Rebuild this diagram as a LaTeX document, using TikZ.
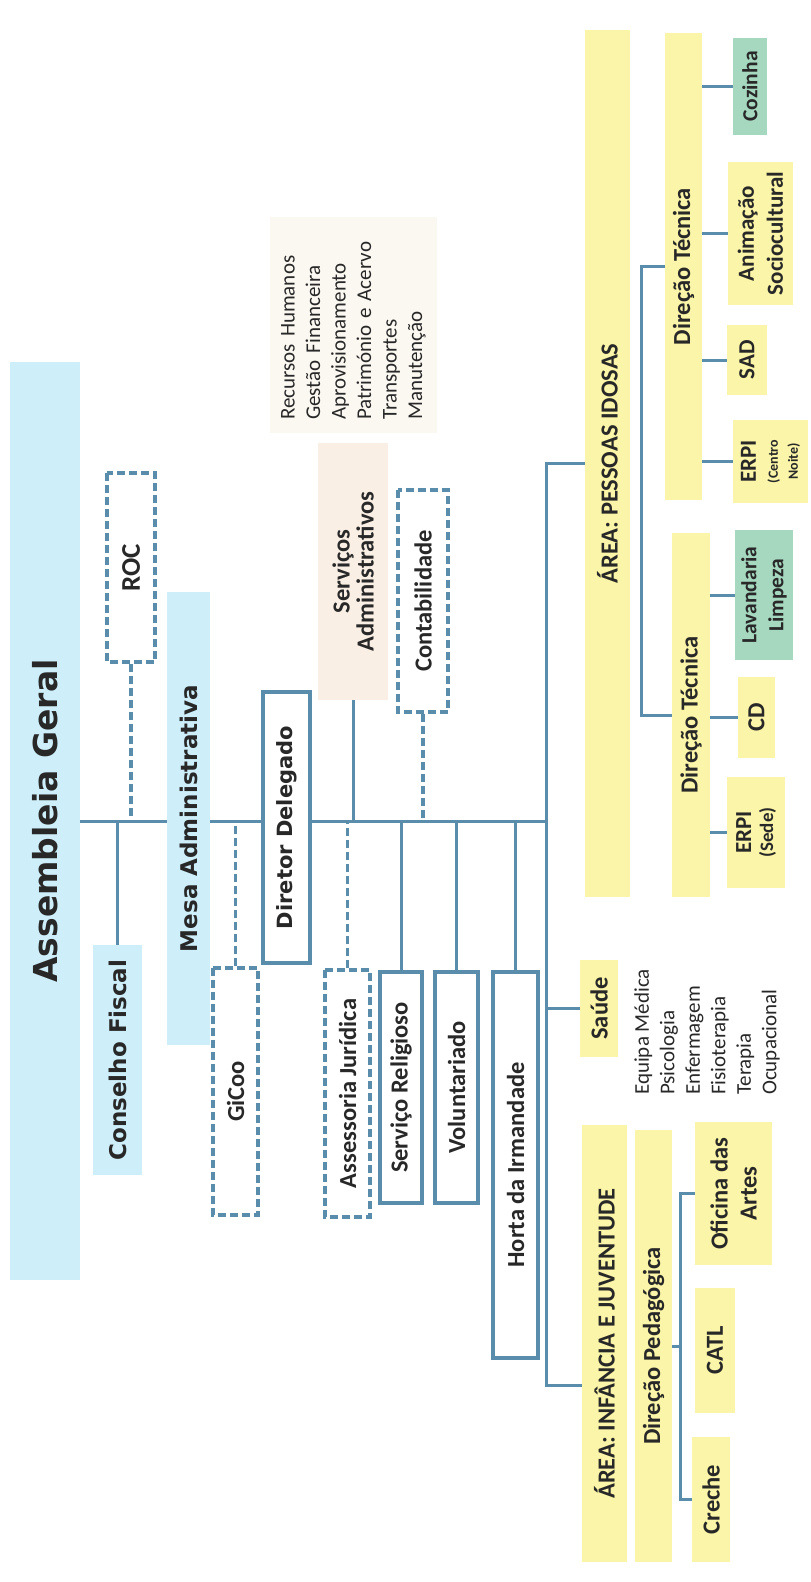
\documentclass[tikz,border=0pt]{standalone}
\usepackage{fontspec}
\setmainfont{Carlito}
\newfontfamily\verdfont{DejaVu Sans}
\usepackage{tikz}
\definecolor{linec}{RGB}{90,140,172}
\definecolor{agblue}{RGB}{206,239,250}
\definecolor{ylw}{RGB}{250,245,168}
\definecolor{grn}{RGB}{166,216,192}
\definecolor{beige}{RGB}{249,239,229}
\definecolor{beigelt}{RGB}{251,247,241}
\definecolor{txtc}{RGB}{40,40,40}
\pgfdeclarelayer{bglayer}
\pgfdeclarelayer{edgelayer}
\pgfdeclarelayer{nodelayer}
\pgfsetlayers{bglayer,edgelayer,nodelayer,main}
\newcommand{\fnttitle}{\verdfont\bfseries\fontsize{33}{36}\selectfont}
\newcommand{\fnthead}{\verdfont\bfseries\fontsize{23}{26}\selectfont}
\newcommand{\fntdir}{\verdfont\bfseries\fontsize{21}{24}\selectfont}
\newcommand{\fntbox}{\bfseries\fontsize{24.5}{24}\selectfont}
\newcommand{\fntmid}{\bfseries\fontsize{21.5}{24}\selectfont}
\newcommand{\fntsmall}{\bfseries\fontsize{14}{15}\selectfont}
\newcommand{\fntlist}{\fontsize{21}{25.5}\selectfont}
\tikzstyle{band}=[rotate=90,inner sep=0pt,fill=agblue,text=txtc]
\tikzstyle{ybox}=[rotate=90,inner sep=0pt,fill=ylw,text=txtc,font=\fntbox,align=center]
\tikzstyle{gbox}=[ybox,fill=grn]
\tikzstyle{sbox}=[rotate=90,inner sep=0pt,fill=white,draw=linec,line width=3.5pt,text=txtc,font=\fntbox,align=center]
\tikzstyle{dbox}=[sbox,line width=3.5pt,dash pattern=on 8pt off 4pt]
\tikzstyle{listtext}=[rotate=90,inner sep=0pt,text=txtc,font=\fntlist,align=left]
\tikzstyle{link}=[draw=linec,line width=3pt]
\tikzstyle{dlink}=[link,line width=3.5pt,dash pattern=on 8pt off 4pt]

\begin{document}
\begin{tikzpicture}[x=1pt,y=-1pt]
            \begin{pgfonlayer}{bglayer}
            \fill [white] (0,0) rectangle (811,1582);
            \end{pgfonlayer}
            \useasboundingbox (0,0) rectangle (811,1582);

            \begin{pgfonlayer}{nodelayer}
            % governing bodies
            \node [style = band, minimum width=918pt, minimum height=70pt, font=\fnttitle] (assembleia) at (45, 821) {Assembleia Geral};
            \node [style = band, minimum width=230pt, minimum height=49pt, font=\fnthead] (conselho) at (117.5, 1060) {Conselho Fiscal};
            \node [style = dbox, minimum width=189pt, minimum height=48pt, font=\bfseries\fontsize{27}{27}\selectfont] (roc) at (131, 567.5) {ROC};
            \node [style = band, minimum width=453pt, minimum height=43pt, font=\fnthead] (mesa) at (188.5, 818.5) {Mesa Administrativa};
            \node [style = sbox, minimum width=271pt, minimum height=47pt, font=\fntdir] (diretor) at (286.5, 827.5) {Diretor Delegado};

            % services
            \node [style = dbox, minimum width=247pt, minimum height=45pt] (gicoo) at (235.5, 1091.5) {GiCoo};
            \node [style = dbox, minimum width=247pt, minimum height=45pt] (assessoria) at (347.5, 1093.5) {Assessoria Jurídica};
            \node [style = sbox, minimum width=231pt, minimum height=42pt] (religioso) at (401, 1087.5) {Serviço Religioso};
            \node [style = sbox, minimum width=231pt, minimum height=43pt] (voluntariado) at (456.5, 1087.5) {Voluntariado};
            \node [style = sbox, minimum width=386pt, minimum height=45pt] (horta) at (515.5, 1165) {Horta da Irmandade};
            \node [style = ybox, fill=beige, minimum width=257pt, minimum height=70pt] (servadm) at (353, 571.5) {Serviços\\Administrativos};
            \node [style = listtext, anchor=north west, fill=beigelt, text width=190pt, minimum height=162pt, inner xsep=13pt, inner ysep=11pt] (admlist) at (270, 433) {Recursos Humanos\\Gestão Financeira\\Aprovisionamento\\Património e Acervo\\Transportes\\Manutenção};
            \node [style = dbox, minimum width=222pt, minimum height=50pt] (contab) at (423, 601) {Contabilidade};

            % area: pessoas idosas
            \node [style = ybox, minimum width=867pt, minimum height=45pt] (idosas) at (607.5, 463.5) {ÁREA: PESSOAS IDOSAS};
            \node [style = ybox, minimum width=467pt, minimum height=37pt] (dirtec1) at (683.5, 266.5) {Direção Técnica};
            \node [style = ybox, minimum width=364pt, minimum height=38pt] (dirtec2) at (691, 715) {Direção Técnica};
            \node [style = gbox, minimum width=97pt, minimum height=34pt, font=\fntmid] (cozinha) at (750, 86.5) {Cozinha};
            \node [style = ybox, minimum width=143pt, minimum height=65pt, font=\bfseries\fontsize{23}{24}\selectfont] (animacao) at (760.5, 233.5) {Animação\\[5pt]Sociocultural};
            \node [style = ybox, minimum width=70pt, minimum height=40pt, font=\bfseries\fontsize{23}{24}\selectfont] (sad) at (747, 360) {SAD};
            \node [style = ybox, minimum width=83pt, minimum height=75pt, font=\bfseries\fontsize{23}{20}\selectfont] (erpinoite) at (770.5, 461.5) {ERPI\\[2pt]{\fntsmall (Centro}\\{\fntsmall Noite)}};
            \node [style = gbox, minimum width=130pt, minimum height=58pt, font=\fntmid] (lavandaria) at (764, 595) {Lavandaria\\[3pt]Limpeza};
            \node [style = ybox, minimum width=81pt, minimum height=37pt] (cd) at (756.5, 717.5) {CD};
            \node [style = ybox, minimum width=111pt, minimum height=58pt, font=\bfseries\fontsize{23}{22}\selectfont] (erpisede) at (756, 832.5) {ERPI\\{\bfseries\fontsize{19}{20}\selectfont (Sede)}};

            % saude
            \node [style = ybox, minimum width=97pt, minimum height=38pt] (saude) at (599, 1008.5) {Saúde};
            \node [style = listtext, anchor=north west] (saudelist) at (634, 1095) {Equipa Médica\\Psicologia\\Enfermagem\\Fisioterapia\\Terapia\\Ocupacional};

            % area: infancia e juventude
            \node [style = ybox, minimum width=437pt, minimum height=45pt] (infancia) at (604.5, 1343.5) {ÁREA: INFÂNCIA E JUVENTUDE};
            \node [style = ybox, minimum width=432pt, minimum height=37pt] (dirped) at (653.5, 1346) {Direção Pedagógica};
            \node [style = ybox, minimum width=143pt, minimum height=77pt] (oficina) at (733.5, 1193.5) {Oficina das\\[5pt]Artes};
            \node [style = ybox, minimum width=125pt, minimum height=40pt] (catl) at (715, 1350.5) {CATL};
            \node [style = ybox, minimum width=125pt, minimum height=38pt] (creche) at (711, 1499.5) {Creche};
            \end{pgfonlayer}

        \begin{pgfonlayer}{edgelayer}
            \coordinate (hub) at (546, 821);
            \coordinate (infstub) at (546, 1385);
            \coordinate (pedbr) at (680, 1346);

            \draw [link] (assembleia.south) -- (hub);
            \draw [link] (conselho.east) -- (conselho.east |- hub);
            \draw [dlink] (roc.west) -- (roc.west |- hub);
            \draw [dlink] (gicoo.east) -- (gicoo.east |- hub);
            \draw [link] (servadm.west) -- (servadm.west |- hub);
            \draw [dlink] (contab.west) -- (contab.west |- hub);
            \draw [dlink] (assessoria.east) -- (assessoria.east |- hub);
            \draw [link] (religioso.east) -- (religioso.east |- hub);
            \draw [link] (voluntariado.east) -- (voluntariado.east |- hub);
            \draw [link] (horta.east) -- (horta.east |- hub);

            \draw [link] (idosas.north) -| (infstub) -- (infstub -| infancia.north);
            \draw [link] (saude.north) -- (saude.north -| hub);

            \draw [link] (dirtec1.north) -- ++(-23,0) |- (dirtec2.north);
            \draw [link] (dirtec1.south |- cozinha.north) -- (cozinha.north);
            \draw [link] (dirtec1.south |- animacao.north) -- (animacao.north);
            \draw [link] (dirtec1.south |- sad.north) -- (sad.north);
            \draw [link] (dirtec1.south |- erpinoite.north) -- (erpinoite.north);
            \draw [link] (dirtec2.south |- lavandaria.north) -- (lavandaria.north);
            \draw [link] (dirtec2.south |- cd.north) -- (cd.north);
            \draw [link] (dirtec2.south |- erpisede.north) -- (erpisede.north);

            \draw [link] (dirped.south) -- (pedbr);
            \draw [link] (oficina.north) -| (pedbr) |- (creche.north);
        \end{pgfonlayer}
    \end{tikzpicture}
\end{document}
